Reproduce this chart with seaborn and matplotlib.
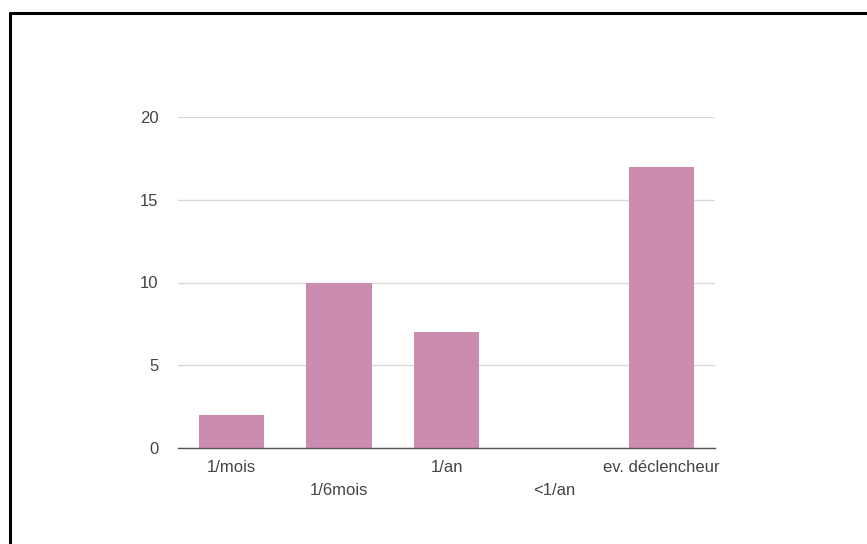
import matplotlib
matplotlib.use("Agg")
import matplotlib.pyplot as plt
from matplotlib.lines import Line2D
import seaborn as sns
import pandas as pd

categories = ["1/mois", "1/6mois", "1/an", "<1/an", "ev. déclencheur"]
values = [2, 10, 7, 0, 17]
yticks = [0, 5, 10, 15, 20]

sns.set_theme(style="white")
plt.rcParams['font.family'] = ['Liberation Sans', 'DejaVu Sans']

fig = plt.figure(figsize=(8.67, 5.44), dpi=100)
ax = fig.add_axes([178/867, 1-448/544, (715-178)/867, (448-117)/544])

df = pd.DataFrame({"cat": categories, "val": values})
sns.barplot(data=df, x="cat", y="val", color="#cc8cb0", saturation=1, width=0.61, ax=ax, linewidth=0)

ax.set_ylim(0, 20)
ax.set_yticks(yticks)
ax.set_xlim(-0.5, len(categories)-0.5)
ax.yaxis.grid(True, color="#d9d9d9", linewidth=1)
ax.set_axisbelow(True)
for s in ["top", "right", "left"]:
    ax.spines[s].set_visible(False)
ax.spines["bottom"].set_color("#555555")
ax.spines["bottom"].set_linewidth(1)
ax.set_xlabel("")
ax.set_ylabel("")
ax.tick_params(axis="both", length=0, labelsize=12, labelcolor="#444444")
ax.tick_params(axis="y", pad=14)
for i, t in enumerate(ax.xaxis.get_major_ticks()):
    t.set_pad(9 if i % 2 == 0 else 25.5)

fig.add_artist(Line2D([9.5/867, 9.5/867], [0, 1-12.5/544], color="black", linewidth=2.2, transform=fig.transFigure))
fig.add_artist(Line2D([9.5/867, 1], [1-12.5/544, 1-12.5/544], color="black", linewidth=2.2, transform=fig.transFigure))

fig.savefig("out.png", dpi=100, facecolor="white")
